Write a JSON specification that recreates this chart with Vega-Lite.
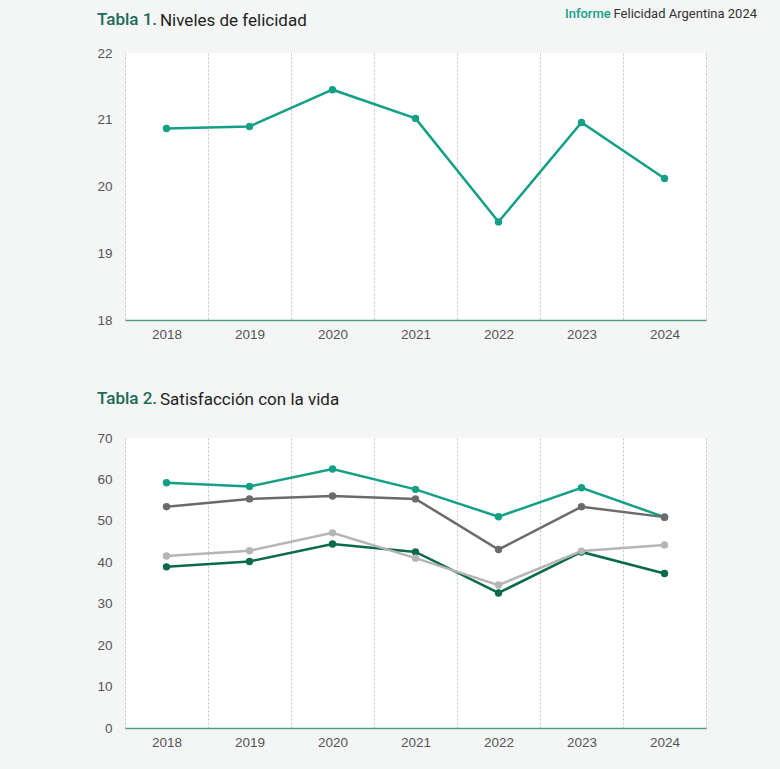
{
  "$schema": "https://vega.github.io/schema/vega-lite/v6.json",
  "background": "#f4f5f5",
  "padding": {"left": 96, "top": 8, "right": 60, "bottom": 20},
  "title": {"text": "Informe", "anchor": "start", "dx": 468, "fontSize": 13, "font": "Roboto", "fontWeight": 500, "color": "#14a085", "offset": -13},
  "datasets": {
    "t1": [
      {"year": "2018", "value": 20.87},
      {"year": "2019", "value": 20.9},
      {"year": "2020", "value": 21.45},
      {"year": "2021", "value": 21.02},
      {"year": "2022", "value": 19.47},
      {"year": "2023", "value": 20.96},
      {"year": "2024", "value": 20.12}
    ],
    "t2": [
      {"year": "2018", "serie": "a", "value": 59.2},
      {"year": "2019", "serie": "a", "value": 58.3},
      {"year": "2020", "serie": "a", "value": 62.5},
      {"year": "2021", "serie": "a", "value": 57.6},
      {"year": "2022", "serie": "a", "value": 51.0},
      {"year": "2023", "serie": "a", "value": 58.0},
      {"year": "2024", "serie": "a", "value": 50.9},
      {"year": "2018", "serie": "b", "value": 38.9},
      {"year": "2019", "serie": "b", "value": 40.2},
      {"year": "2020", "serie": "b", "value": 44.4},
      {"year": "2021", "serie": "b", "value": 42.5},
      {"year": "2022", "serie": "b", "value": 32.6},
      {"year": "2023", "serie": "b", "value": 42.5},
      {"year": "2024", "serie": "b", "value": 37.3},
      {"year": "2018", "serie": "c", "value": 41.5},
      {"year": "2019", "serie": "c", "value": 42.8},
      {"year": "2020", "serie": "c", "value": 47.1},
      {"year": "2021", "serie": "c", "value": 41.0},
      {"year": "2022", "serie": "c", "value": 34.5},
      {"year": "2023", "serie": "c", "value": 42.7},
      {"year": "2024", "serie": "c", "value": 44.2},
      {"year": "2018", "serie": "d", "value": 53.4},
      {"year": "2019", "serie": "d", "value": 55.3},
      {"year": "2020", "serie": "d", "value": 56.0},
      {"year": "2021", "serie": "d", "value": 55.3},
      {"year": "2022", "serie": "d", "value": 43.1},
      {"year": "2023", "serie": "d", "value": 53.4},
      {"year": "2024", "serie": "d", "value": 50.9}
    ]
  },
  "config": {
    "view": {"fill": "white", "stroke": null},
    "font": "Liberation Sans",
    "title": {"font": "Roboto", "fontSize": 17, "fontWeight": "normal", "color": "#1f1f1f", "anchor": "start"},
    "axisX": {
      "labelFont": "Liberation Sans", "labelFontSize": 13.5, "labelColor": "#555555", "labelAngle": 0, "labelPadding": 7,
      "ticks": false, "domainColor": "#4f9c84", "domainWidth": 1.5,
      "grid": true, "gridDash": [2, 2], "gridColor": "#c4c4c4", "gridWidth": 1, "tickBand": "extent", "title": null
    },
    "axisY": {
      "labelFont": "Liberation Sans", "labelFontSize": 13.5, "labelColor": "#555555", "labelPadding": 13,
      "ticks": false, "domain": false, "grid": false, "title": null
    }
  },
  "vconcat": [
    {
      "title": {"text": "Felicidad Argentina 2024", "anchor": "end", "dx": 51, "fontSize": 13, "color": "#333333", "offset": -10},
      "spacing": 49,
      "vconcat": [
        {
          "title": {"text": "Tabla 1.", "color": "#1c6b56", "fontWeight": 500, "offset": -17},
          "vconcat": [
            {
              "title": {"text": "Niveles de felicidad", "dx": 63, "offset": 16},
              "width": 581,
              "height": 267,
              "data": {"name": "t1"},
              "mark": {"type": "line", "color": "#14a085", "strokeWidth": 2.5, "point": {"filled": true, "size": 55, "color": "#14a085"}},
              "encoding": {
                "x": {"field": "year", "type": "ordinal", "scale": {"type": "band", "paddingInner": 0, "paddingOuter": 0}},
                "y": {"field": "value", "type": "quantitative", "scale": {"domain": [18, 22], "zero": false}, "axis": {"values": [18, 19, 20, 21, 22]}}
              }
            }
          ]
        },
        {
          "title": {"text": "Tabla 2.", "color": "#1c6b56", "fontWeight": 500, "offset": -17},
          "vconcat": [
            {
              "title": {"text": "Satisfacción con la vida", "dx": 63, "offset": 22},
              "width": 581,
              "height": 290,
              "data": {"name": "t2"},
              "mark": {"type": "line", "strokeWidth": 2.5, "point": {"filled": true, "size": 55}},
              "encoding": {
                "x": {"field": "year", "type": "ordinal", "scale": {"type": "band", "paddingInner": 0, "paddingOuter": 0}},
                "y": {"field": "value", "type": "quantitative", "scale": {"domain": [0, 70]}, "axis": {"values": [0, 10, 20, 30, 40, 50, 60, 70]}},
                "color": {"field": "serie", "type": "nominal", "legend": null, "scale": {"domain": ["a", "b", "c", "d"], "range": ["#14a085", "#0b6b48", "#b5b5b5", "#6b6b6b"]}}
              }
            }
          ]
        }
      ]
    }
  ]
}
